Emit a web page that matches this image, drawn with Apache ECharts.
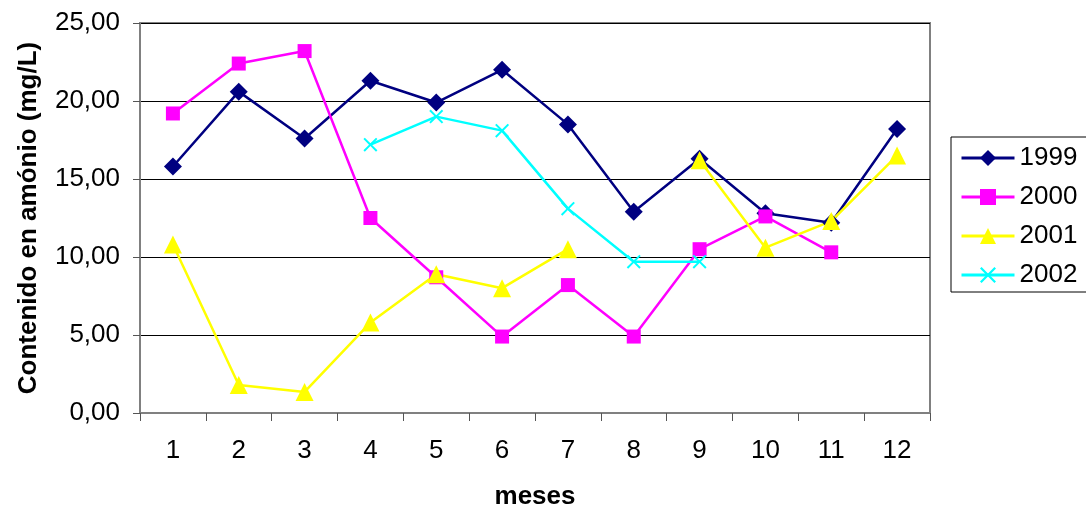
<!DOCTYPE html>
<html>
<head>
<meta charset="utf-8">
<script src="https://cdn.jsdelivr.net/npm/echarts@6/dist/echarts.min.js"></script>
<style>html,body{margin:0;padding:0;background:#fff}#c{width:1086px;height:507px}</style>
</head>
<body>
<div id="c"></div>
<script>
const months = ['1','2','3','4','5','6','7','8','9','10','11','12'];
const yTicks = [0, 5, 10, 15, 20, 25];
const s1999 = [15.8, 20.6, 17.6, 21.3, 19.9, 22.0, 18.5, 12.9, 16.3, 12.8, 12.2, 18.2];
const s2000 = [19.2, 22.4, 23.2, 12.5, 8.7, 4.9, 8.2, 4.9, 10.5, 12.6, 10.3, null];
const s2001 = [10.8, 1.8, 1.35, 5.8, 8.9, 8.0, 10.5, null, 16.2, 10.6, 12.3, 16.5];
const s2002 = [null, null, null, 17.2, 19.0, 18.1, 13.1, 9.7, 9.7, null, null, null];
const seriesNames = ['1999', '2000', '2001', '2002'];

const FONT = 'Arial, "Liberation Sans", sans-serif';
const xPath = 'path://M0,0.1 L0.1,0 L0.5,0.4 L0.9,0 L1,0.1 L0.6,0.5 L1,0.9 L0.9,1 L0.5,0.6 L0.1,1 L0,0.9 L0.4,0.5 Z';

function mk(name, data, color, symbol, size) {
  return {
    name: name, type: 'line', data: data, connectNulls: false,
    symbol: symbol, symbolSize: size, showAllSymbol: true,
    lineStyle: {color: color, width: 2.5},
    itemStyle: {color: color},
    emphasis: {disabled: true}
  };
}

const chart = echarts.init(document.getElementById('c'), null, {renderer: 'canvas'});
chart.setOption({
  animation: false,
  backgroundColor: '#fff',
  textStyle: {fontFamily: FONT},
  grid: {left: 140, right: 156, top: 23, bottom: 94, show: true, borderColor: '#808080', borderWidth: 2,
    backgroundColor: 'transparent', outerBoundsMode: 'none', containLabel: false},
  legend: {
    orient: 'vertical', left: 951, top: 137,
    data: seriesNames,
    itemWidth: 53, itemHeight: 20, itemGap: 13,
    padding: [8, 20, 4, 9],
    borderColor: '#000', borderWidth: 1,
    lineStyle: {width: 3},
    textStyle: {fontSize: 26, color: '#000', fontFamily: FONT},
    selectedMode: false
  },
  xAxis: {
    type: 'category', data: months, boundaryGap: true,
    name: 'meses', nameLocation: 'middle', nameGap: 71,
    nameTextStyle: {fontSize: 26, fontWeight: 'bold', color: '#000', fontFamily: FONT},
    axisLine: {lineStyle: {color: '#808080', width: 2}},
    axisTick: {show: true, length: 8, lineStyle: {color: '#555', width: 1}},
    axisLabel: {fontSize: 26, color: '#000', margin: 25, fontFamily: FONT},
    splitLine: {show: false}
  },
  yAxis: {
    type: 'value', min: yTicks[0], max: yTicks[yTicks.length - 1], interval: 5,
    name: 'Contenido en amónio (mg/L)', nameLocation: 'middle', nameGap: 98, nameRotate: 90,
    nameTextStyle: {fontSize: 26, fontWeight: 'bold', color: '#000', fontFamily: FONT},
    axisLine: {show: true, lineStyle: {color: '#808080', width: 2}},
    axisTick: {show: true, length: 7, lineStyle: {color: '#555', width: 1}},
    axisLabel: {fontSize: 26, color: '#000', margin: 20, fontFamily: FONT,
      formatter: v => v.toFixed(2).replace('.', ',')},
    splitLine: {show: true, lineStyle: {color: '#000', width: 1}}
  },
  series: [
    mk('1999', s1999, '#000080', 'diamond', 18),
    mk('2000', s2000, '#FF00FF', 'rect', 14),
    mk('2001', s2001, '#FFFF00', 'triangle', 18),
    mk('2002', s2002, '#00FFFF', xPath, 14)
  ]
});
</script>
</body>
</html>
